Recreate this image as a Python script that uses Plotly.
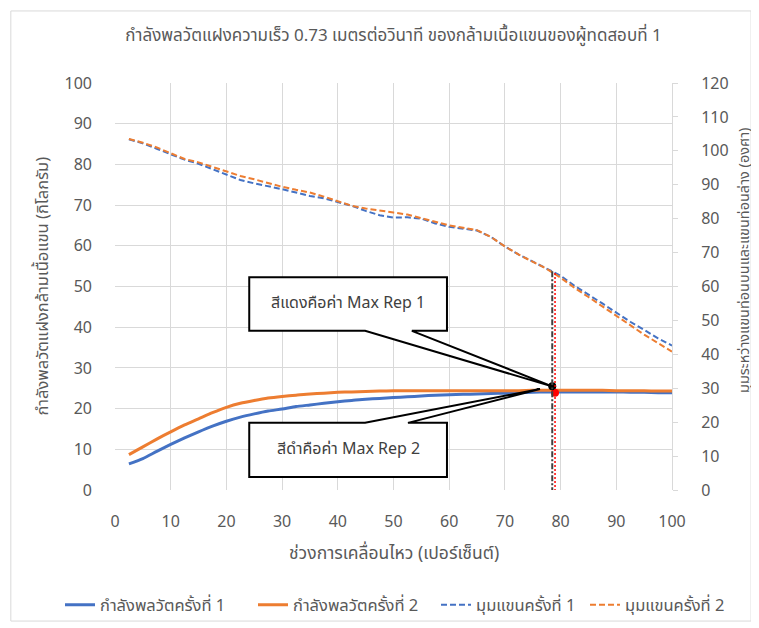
import plotly.graph_objects as go

# ---------------- data ----------------
x_pct = [2.5, 5, 7.5, 10, 12.5, 15, 17.5, 20, 22.5, 25, 27.5, 30, 32.5, 35, 37.5, 40,
         42.5, 45, 47.5, 50, 52.5, 55, 57.5, 60, 62.5, 65, 67.5, 70, 72.5, 75, 77.5, 80,
         82.5, 85, 87.5, 90, 92.5, 95, 97.5, 100]

force_1 = [6.4, 7.7, 9.5, 11.2, 12.8, 14.3, 15.7, 16.9, 17.9, 18.7, 19.4, 19.9, 20.5, 20.9,
           21.3, 21.7, 22.0, 22.3, 22.5, 22.7, 22.9, 23.1, 23.3, 23.4, 23.5, 23.6, 23.7, 23.8,
           23.9, 24.0, 24.1, 24.1, 24.1, 24.1, 24.1, 24.1, 24.0, 24.0, 23.9, 23.9]

force_2 = [8.7, 10.6, 12.5, 14.3, 16.0, 17.5, 19.0, 20.3, 21.3, 22.0, 22.6, 23.0, 23.3, 23.6,
           23.8, 24.0, 24.1, 24.2, 24.3, 24.4, 24.4, 24.4, 24.4, 24.4, 24.4, 24.4, 24.4, 24.4,
           24.4, 24.5, 24.5, 24.5, 24.5, 24.5, 24.5, 24.4, 24.4, 24.4, 24.3, 24.3]

angle_1 = [103.4, 102.2, 100.6, 99.0, 97.4, 96.2, 94.6, 92.9, 91.4, 90.4, 89.6, 88.7, 87.7,
           86.7, 86.0, 85.0, 83.8, 82.3, 81.0, 80.3, 80.4, 80.0, 78.6, 77.6, 77.0, 76.5, 74.6,
           71.8, 69.4, 67.3, 65.2, 63.2, 60.2, 57.7, 55.0, 52.3, 49.6, 47.2, 44.7, 42.6]

angle_2 = [103.5, 102.4, 101.0, 99.3, 97.6, 96.6, 95.2, 93.8, 92.6, 91.6, 90.4, 89.4, 88.5,
           87.7, 86.5, 85.2, 83.8, 83.0, 82.3, 81.8, 81.2, 80.2, 79.2, 78.0, 77.3, 76.6, 74.6,
           71.8, 69.4, 67.3, 65.2, 62.6, 59.6, 56.9, 54.2, 51.5, 48.6, 45.8, 43.2, 40.8]

# Max Rep markers (x position, force value, angle value)
max_rep_labels = ["Max Rep 1", "Max Rep 2"]
max_rep_x = [79.0, 78.5]
max_rep_force = [23.9, 25.5]
max_rep_angle = [64.0, 64.5]

series_names = ["กำลังพลวัตครั้งที่ 1", "กำลังพลวัตครั้งที่ 2", "มุมแขนครั้งที่ 1", "มุมแขนครั้งที่ 2"]
x_ticks = [0, 10, 20, 30, 40, 50, 60, 70, 80, 90, 100]
y_ticks = [0, 10, 20, 30, 40, 50, 60, 70, 80, 90, 100]
y2_ticks = [0, 10, 20, 30, 40, 50, 60, 70, 80, 90, 100, 110, 120]

title_text = "กำลังพลวัตแฝงความเร็ว 0.73 เมตรต่อวินาที ของกล้ามเนื้อแขนของผู้ทดสอบที่ 1"
x_title = "ช่วงการเคลื่อนไหว (เปอร์เซ็นต์)"
y_title = "กำลังพลวัตแฝงกล้ามเนื้อแขน (กิโลกรัม)"
y2_title = "มุมระหว่างแขนท่อนบนและแขนท่อนล่าง (องศา)"
callout_texts = ["สีแดงคือค่า Max Rep 1", "สีดำคือค่า Max Rep 2"]

# ---------------- style ----------------
BLUE = "#4472C4"
ORANGE = "#ED7D31"
GRID = "#d9d9d9"
TXT = "#595959"
FONT = "Tahoma, 'Leelawadee UI', 'Noto Sans Thai', 'Noto Sans', 'DejaVu Sans', sans-serif"

# page body has an 8px margin: figure is drawn 8px smaller and margins compensate
W, H = 751, 620

fig = go.Figure()

fig.add_trace(go.Scatter(x=x_pct, y=force_1, name=series_names[0], mode="lines", legend="legend",
                         line=dict(color=BLUE, width=3, shape="spline", smoothing=0.6)))
fig.add_trace(go.Scatter(x=x_pct, y=force_2, name=series_names[1], mode="lines", legend="legend2",
                         line=dict(color=ORANGE, width=3, shape="spline", smoothing=0.6)))
fig.add_trace(go.Scatter(x=x_pct, y=angle_1, name=series_names[2], mode="lines", yaxis="y2",
                         legend="legend3", line=dict(color=BLUE, width=2, dash="6px,3px")))
fig.add_trace(go.Scatter(x=x_pct, y=angle_2, name=series_names[3], mode="lines", yaxis="y2",
                         legend="legend4", line=dict(color=ORANGE, width=2, dash="6px,3px")))

# vertical Max Rep lines (from angle curve down to 0)
fig.add_trace(go.Scatter(x=[max_rep_x[1], max_rep_x[1]], y=[max_rep_angle[1], 0], yaxis="y2",
                         mode="lines", showlegend=False, hoverinfo="skip",
                         line=dict(color="#404040", width=2, dash="6px,2px,2px,2px")))
fig.add_trace(go.Scatter(x=[max_rep_x[0], max_rep_x[0]], y=[max_rep_angle[0], 0], yaxis="y2",
                         mode="lines", showlegend=False, hoverinfo="skip",
                         line=dict(color="#FF0000", width=1.5, dash="2px,2px")))

# Max Rep points
fig.add_trace(go.Scatter(x=[max_rep_x[0]], y=[max_rep_force[0]], mode="markers", showlegend=False,
                         marker=dict(color="#FF0000", size=8), name=max_rep_labels[0]))
fig.add_trace(go.Scatter(x=[max_rep_x[1]], y=[max_rep_force[1]], mode="markers", showlegend=False,
                         marker=dict(color="#000000", size=8), name=max_rep_labels[1]))

# ---------------- callouts ----------------
def callout_path(x0, x1, y0, y1, base_a, base_b, tip, on_bottom):
    if on_bottom:
        return (f"M {x0},{y1} L {x1},{y1} L {x1},{y0} L {base_b},{y0} "
                f"L {tip[0]},{tip[1]} L {base_a},{y0} L {x0},{y0} Z")
    return (f"M {x0},{y0} L {x1},{y0} L {x1},{y1} L {base_b},{y1} "
            f"L {tip[0]},{tip[1]} L {base_a},{y1} L {x0},{y1} Z")

shapes = [
    # outer chart border
    dict(type="rect", xref="paper", yref="paper", x0=-0.187, x1=1.142, y0=-0.322, y1=1.177,
         line=dict(color=GRID, width=1), fillcolor="rgba(0,0,0,0)", layer="below"),
    dict(type="path", xref="x", yref="y",
         path=callout_path(24.1, 59.6, 39.1, 52.3, 44.9, 53.3, (78.6, 25.4), True),
         line=dict(color="#000000", width=2), fillcolor="white"),
    dict(type="path", xref="x", yref="y",
         path=callout_path(24.1, 59.6, 3.2, 16.5, 44.9, 52.6, (76.3, 24.8), False),
         line=dict(color="#000000", width=2), fillcolor="white"),
]

annotations = [
    dict(text=callout_texts[0], x=41.85, y=45.9, xref="x", yref="y", showarrow=False,
         xanchor="center", yanchor="middle",
         font=dict(size=16, color="#404040", family=FONT)),
    dict(text=callout_texts[1], x=41.85, y=10.1, xref="x", yref="y", showarrow=False,
         xanchor="center", yanchor="middle",
         font=dict(size=16, color="#404040", family=FONT)),
    dict(text=x_title, x=0.501, y=-0.155, xref="paper", yref="paper", showarrow=False,
         xanchor="center", yanchor="middle",
         font=dict(size=17.5, color=TXT, family=FONT)),
    dict(text=y_title, x=-0.131, y=0.5, xref="paper", yref="paper", showarrow=False,
         xanchor="center", yanchor="middle",
         textangle=-90, font=dict(size=16.5, color=TXT, family=FONT)),
    dict(text=y2_title, x=1.131, y=0.565, xref="paper", yref="paper", showarrow=False,
         xanchor="center", yanchor="middle",
         textangle=-90, font=dict(size=14.5, color=TXT, family=FONT)),
]


def legend_at(px_left):
    return dict(orientation="h", xref="container", yref="container",
                x=(px_left - 8) / W, y=1 - (605 - 8) / H, xanchor="left", yanchor="middle",
                font=dict(size=16.5, color=TXT, family=FONT), itemwidth=30,
                bgcolor="rgba(0,0,0,0)", borderwidth=0)


fig.update_layout(
    width=W, height=H,
    margin=dict(l=107, r=87, t=75, b=138, autoexpand=False),
    paper_bgcolor="white", plot_bgcolor="white",
    font=dict(family=FONT, size=16, color=TXT),
    title=dict(text=title_text, x=0.5, xref="paper", y=1 - 27 / H, yref="container",
               xanchor="center", yanchor="middle", font=dict(size=17, color=TXT, family=FONT)),
    xaxis=dict(range=[0, 100], tickvals=x_ticks, showgrid=True, gridcolor=GRID, gridwidth=1,
               zeroline=False, showline=False, ticks="", ticklabelstandoff=20,
               tickfont=dict(size=16, color=TXT)),
    yaxis=dict(range=[0, 100], tickvals=y_ticks, showgrid=True, gridcolor=GRID, gridwidth=1,
               zeroline=False, showline=False, ticks="", ticklabelstandoff=22,
               tickfont=dict(size=16, color=TXT)),
    yaxis2=dict(range=[0, 120], tickvals=y2_ticks, overlaying="y", side="right", showgrid=False,
                zeroline=False, showline=True, linecolor=GRID, linewidth=1,
                ticks="outside", ticklen=5, tickcolor=GRID, ticklabelstandoff=20,
                tickfont=dict(size=16, color=TXT)),
    legend=legend_at(60),
    legend2=legend_at(253),
    legend3=legend_at(436),
    legend4=legend_at(585),
    shapes=shapes,
    annotations=annotations,
    showlegend=True,
)

fig.write_html("out.html")
